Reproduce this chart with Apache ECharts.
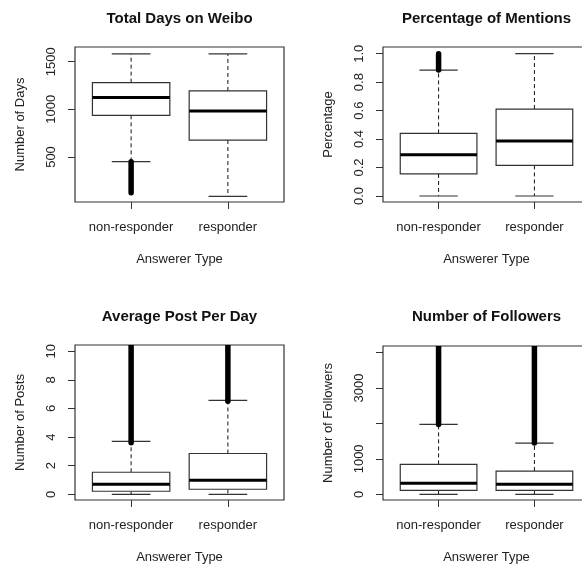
<!DOCTYPE html>
<html>
<head>
<meta charset="utf-8">
<script src="https://cdn.jsdelivr.net/npm/echarts@6/dist/echarts.min.js"></script>
<style>
  html, body { margin: 0; padding: 0; background: #fff; }
  #chart { width: 582px; height: 564px; }
</style>
</head>
<body>
<div id="chart"></div>
<script>
// ---- data ----
const categories = ['non-responder', 'responder'];
const panelTitles = ['Total Days on Weibo', 'Percentage of Mentions', 'Average Post Per Day', 'Number of Followers'];
const yAxisTitles = ['Number of Days', 'Percentage', 'Number of Posts', 'Number of Followers'];
const xAxisTitle = 'Answerer Type';

// box statistics per category: [lower whisker, Q1, median, Q3, upper whisker]
const daysStats = [[451, 937, 1123, 1280, 1581], [88, 678, 982, 1193, 1581]];
const mentionStats = [[0, 0.155, 0.29, 0.44, 0.885], [0, 0.215, 0.386, 0.611, 1.0]];
const postStats = [[0, 0.21, 0.70, 1.54, 3.69], [0, 0.35, 0.98, 2.85, 6.56]];
const followerStats = [[0, 113, 310, 845, 1972], [0, 113, 282, 656, 1445]];

// span of the (densely packed) outliers per category: [lowest, highest], null = none
const daysOutliers = [[126, 451], null];
const mentionOutliers = [[0.885, 1.0], null];
const postOutliers = [[3.6, 11], [6.5, 11]];
const followerOutliers = [[1972, 4500], [1445, 4500]];

// tick values
const daysTicks = [500, 1000, 1500];
const mentionTicks = [0, 0.2, 0.4, 0.6, 0.8, 1.0];
const postTicks = [0, 2, 4, 6, 8, 10];
const followerTicks = [0, 1000, 2000, 3000, 4000];
const followerTickLabels = [0, 1000, 3000];

// ---- chart ----
const statsList = [daysStats, mentionStats, postStats, followerStats];
const outlierList = [daysOutliers, mentionOutliers, postOutliers, followerOutliers];
const tickList = [daysTicks, mentionTicks, postTicks, followerTicks];
const labelList = [daysTicks, mentionTicks, postTicks, followerTickLabels];
const yRanges = [[28, 1654], [-0.042, 1.047], [-0.4, 10.43], [-161, 4186]];
const yFormatters = [v => String(v), v => v.toFixed(1), v => String(v), v => String(v)];

const grids = [
  { left: 75, top: 47, width: 209, height: 155 },
  { left: 383, top: 47, width: 207, height: 155 },
  { left: 75, top: 345, width: 209, height: 155 },
  { left: 383, top: 346, width: 207, height: 154 }
];
const titleTops = [11, 11, 309, 309];

const textColor = '#222';
const fontFamily = 'Liberation Sans, Arial, sans-serif';

function renderBox(params, api) {
  const x = api.value(0);
  const lo = api.value(1), q1 = api.value(2), med = api.value(3), q3 = api.value(4), hi = api.value(5);
  const oLo = api.value(6), oHi = api.value(7);
  const cx = api.coord([x, 0])[0];
  const bl = api.coord([x - 0.4, 0])[0], br = api.coord([x + 0.4, 0])[0];
  const cl = api.coord([x - 0.2, 0])[0], cr = api.coord([x + 0.2, 0])[0];
  const y = v => api.coord([x, v])[1];
  const stroke = '#111';
  const children = [];
  const dash = { stroke: stroke, lineWidth: 1, lineDash: [4, 3] };
  children.push({ type: 'line', shape: { x1: cx, y1: y(q3), x2: cx, y2: y(hi) }, style: dash });
  children.push({ type: 'line', shape: { x1: cx, y1: y(q1), x2: cx, y2: y(lo) }, style: dash });
  children.push({ type: 'line', shape: { x1: cl, y1: y(hi), x2: cr, y2: y(hi) }, style: { stroke: '#333', lineWidth: 1.2 } });
  children.push({ type: 'line', shape: { x1: cl, y1: y(lo), x2: cr, y2: y(lo) }, style: { stroke: '#333', lineWidth: 1.2 } });
  children.push({ type: 'rect', shape: { x: bl, y: y(q3), width: br - bl, height: y(q1) - y(q3) },
    style: { fill: '#fff', stroke: '#333', lineWidth: 1.2 } });
  children.push({ type: 'line', shape: { x1: bl, y1: y(med), x2: br, y2: y(med) }, style: { stroke: '#000', lineWidth: 3 } });
  if (!isNaN(oLo) && !isNaN(oHi)) {
    children.push({ type: 'line', shape: { x1: cx, y1: y(oLo), x2: cx, y2: y(oHi) },
      style: { stroke: '#000', lineWidth: 5.5, lineCap: 'round' } });
  }
  return { type: 'group', children: children };
}

const option = {
  animation: false,
  backgroundColor: '#fff',
  title: panelTitles.map((t, i) => ({
    text: t,
    left: grids[i].left + grids[i].width / 2,
    top: titleTops[i],
    textAlign: 'center',
    padding: 0,
    textStyle: { fontSize: 15, fontWeight: 'bold', color: '#111', fontFamily: fontFamily }
  })),
  grid: grids.map(g => Object.assign({
    show: true, borderColor: '#333', borderWidth: 1.2, backgroundColor: 'transparent',
    containLabel: false, outerBoundsMode: 'none'
  }, g)),
  xAxis: grids.map((g, i) => ({
    type: 'value',
    gridIndex: i,
    position: 'bottom',
    min: -0.58,
    max: 1.58,
    name: xAxisTitle,
    nameLocation: 'middle',
    nameGap: 51,
    nameTextStyle: { fontSize: 13, color: textColor, fontFamily: fontFamily },
    axisLine: { show: false, onZero: false },
    splitLine: { show: false },
    axisTick: { show: true, length: 7, customValues: [0, 1], lineStyle: { color: '#333' } },
    axisLabel: { customValues: [0, 1], formatter: v => categories[Math.round(v)], margin: 19,
      fontSize: 13, color: textColor, fontFamily: fontFamily }
  })),
  yAxis: grids.map((g, i) => ({
    type: 'value',
    gridIndex: i,
    position: 'left',
    min: yRanges[i][0],
    max: yRanges[i][1],
    name: yAxisTitles[i],
    nameLocation: 'middle',
    nameRotate: 90,
    nameGap: 48,
    nameTextStyle: { fontSize: 13, color: textColor, fontFamily: fontFamily },
    axisLine: { show: false, onZero: false },
    splitLine: { show: false },
    axisTick: { show: true, length: 7, customValues: tickList[i], lineStyle: { color: '#333' } },
    axisLabel: { customValues: labelList[i], formatter: yFormatters[i], rotate: 90, margin: 17,
      fontSize: 13, color: textColor, fontFamily: fontFamily }
  })),
  series: statsList.map((stats, i) => ({
    type: 'custom',
    xAxisIndex: i,
    yAxisIndex: i,
    clip: true,
    renderItem: renderBox,
    encode: { x: 0, y: [1, 2, 3, 4, 5] },
    data: stats.map((s, k) => {
      const o = outlierList[i][k];
      return [k].concat(s).concat(o ? o : ['-', '-']);
    })
  }))
};

const chart = echarts.init(document.getElementById('chart'), null, { renderer: 'canvas' });
chart.setOption(option);
</script>
</body>
</html>
